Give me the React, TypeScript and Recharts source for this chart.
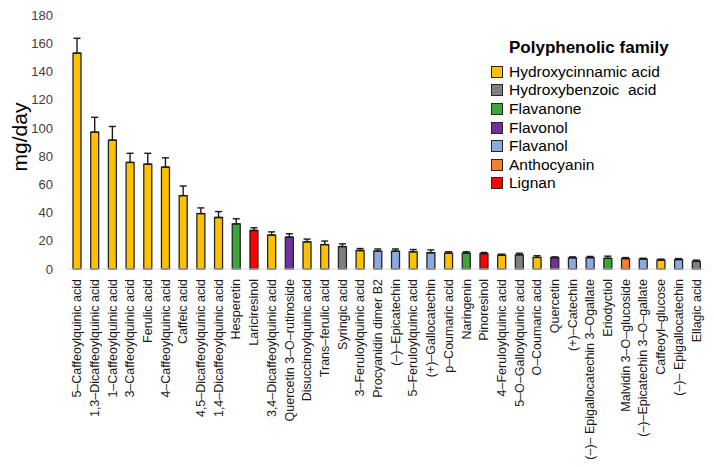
import { BarChart, Bar, XAxis, YAxis, Cell, ErrorBar, Legend } from "recharts";

const COMPOUNDS = [
  "5–Caffeoylquinic acid",
  "1,3–Dicaffeoylquinic acid",
  "1–Caffeoylquinic acid",
  "3–Caffeoylquinic acid",
  "Ferulic acid",
  "4–Caffeoylquinic acid",
  "Caffeic acid",
  "4,5–Dicaffeoylquinic acid",
  "1,4–Dicaffeoylquinic acid",
  "Hesperetin",
  "Lariciresinol",
  "3,4–Dicaffeoylquinic acid",
  "Quercetin 3–O–rutinoside",
  "Disuccinoylquinic acid",
  "Trans–ferulic acid",
  "Syringic acid",
  "3–Feruloylquinic acid",
  "Procyanidin dimer B2",
  "(–)–Epicatechin",
  "5–Feruloylquinic acid",
  "(+)–Gallocatechin",
  "p–Coumaric acid",
  "Naringenin",
  "Pinoresinol",
  "4–Feruloylquinic acid",
  "5–O–Galloylquinic acid",
  "O–Coumaric acid",
  "Quercetin",
  "(+)–Catechin",
  "(–)– Epigallocatechin 3–Ogallate",
  "Eriodyctiol",
  "Malvidin 3–O–glucoside",
  "(–)–Epicatechin 3–O–gallate",
  "Caffeoyl–glucose",
  "(–)– Epigallocatechin",
  "Ellagic acid",
];

// mean intake, mg/day
const INTAKE = [
  153, 97, 91.3, 75.5, 74.3, 72.2, 52, 39.3, 36.5, 32, 27.3, 24, 22.6, 19.2,
  17.3, 15.9, 13.1, 12.7, 12.6, 12.2, 11.5, 11.3, 11.3, 10.9, 9.8, 10, 8.2, 8,
  7.9, 8, 7.6, 7.4, 7, 6.3, 6.7, 5.4,
];

// upper error (SE)
const ERRORS = [
  10.5, 10.5, 9.7, 6.5, 7.7, 6.6, 6.8, 4, 4.2, 3.6, 1.9, 2.3, 2.4, 2, 2.5, 1.9,
  1.4, 1.5, 1.6, 1.6, 2, 0.9, 0.9, 0.8, 0.7, 1.2, 1.2, 0.6, 0.7, 0.9, 1.5, 0.7,
  0.6, 0.7, 0.7, 0.9,
];

const FAMILIES = [
  "Hydroxycinnamic acid",
  "Hydroxybenzoic  acid",
  "Flavanone",
  "Flavonol",
  "Flavanol",
  "Anthocyanin",
  "Lignan",
];

const FAMILY_COLORS = [
  "#FFC000",
  "#7F7F7F",
  "#3DA63A",
  "#7030A0",
  "#8EA9DB",
  "#F47F30",
  "#FF0000",
];

// index into FAMILIES for each compound
const COMPOUND_FAMILY = [
  0, 0, 0, 0, 0, 0, 0, 0, 0, 2, 6, 0, 3, 0, 0, 1, 0, 4, 4, 0, 4, 0, 2, 6, 0, 1,
  0, 3, 4, 4, 2, 5, 4, 0, 4, 1,
];

const Y_TICKS = [0, 20, 40, 60, 80, 100, 120, 140, 160, 180];

const FONT = "'Liberation Sans', Arial, sans-serif";

const data = COMPOUNDS.map((name, i) => ({
  name,
  value: INTAKE[i],
  err: [0, ERRORS[i]],
  family: COMPOUND_FAMILY[i],
}));

function CompoundTick({ x, y, payload }: any) {
  return (
    <text
      x={x}
      y={y}
      transform={`rotate(-90 ${x} ${y})`}
      textAnchor="end"
      dy="0.35em"
      dx={-2}
      fontSize={12.5}
      fontFamily={FONT}
      fill="#1a1a1a"
    >
      {payload.value}
    </text>
  );
}

function UnitLabel({ viewBox }: any) {
  const cx = 19;
  const cy = viewBox.y + viewBox.height / 2 - 5;
  return (
    <text
      x={cx}
      y={cy}
      transform={`rotate(-90 ${cx} ${cy})`}
      textAnchor="middle"
      dominantBaseline="central"
      fontSize={21}
      fontFamily={FONT}
      fill="#000"
    >
      mg/day
    </text>
  );
}

function FamilyLegend() {
  return (
    <div style={{ fontFamily: FONT, color: "#000", paddingLeft: 3 }}>
      <div
        style={{
          fontWeight: "bold",
          fontSize: 17,
          lineHeight: "24px",
          paddingLeft: 18,
          marginBottom: 2.5,
        }}
      >
        Polyphenolic family
      </div>
      {FAMILIES.map((f, i) => (
        <div
          key={f}
          style={{
            display: "flex",
            alignItems: "center",
            height: 18.6,
            fontSize: 15.5,
            whiteSpace: "pre",
          }}
        >
          <span
            style={{
              width: 10,
              height: 10,
              background: FAMILY_COLORS[i],
              border: "1px solid #262626",
              marginRight: 6,
              flex: "none",
            }}
          />
          {f}
        </div>
      ))}
    </div>
  );
}

export default function App() {
  return (
    <div
      style={{
        position: "absolute",
        left: 0,
        top: 0,
        width: 714,
        height: 467,
        background: "#fff",
      }}
    >
      <BarChart
        width={714}
        height={467}
        data={data}
        margin={{ top: 15, right: 9, left: 18, bottom: 8 }}
      >
        <XAxis
          dataKey="name"
          interval={0}
          height={190}
          tickLine={false}
          axisLine={{ stroke: "#D9D9D9", strokeWidth: 1 }}
          tick={<CompoundTick />}
        />
        <YAxis
          width={50}
          domain={[0, 180]}
          ticks={Y_TICKS}
          axisLine={false}
          tickLine={false}
          tickMargin={9}
          tick={{ fontSize: 13, fontFamily: FONT, fill: "#404040" }}
          label={<UnitLabel />}
        />
        <Legend
          layout="vertical"
          align="center"
          verticalAlign="middle"
          wrapperStyle={{ left: 488, top: 36, width: 220 }}
          content={<FamilyLegend />}
        />
        <Bar
          dataKey="value"
          barSize={8}
          stroke="#262626"
          strokeWidth={1.3}
          isAnimationActive={false}
        >
          {data.map((d) => (
            <Cell key={d.name} fill={FAMILY_COLORS[d.family]} />
          ))}
          <ErrorBar
            dataKey="err"
            direction="y"
            width={3.5}
            stroke="#1a1a1a"
            strokeWidth={1.4}
            isAnimationActive={false}
          />
        </Bar>
      </BarChart>
    </div>
  );
}
